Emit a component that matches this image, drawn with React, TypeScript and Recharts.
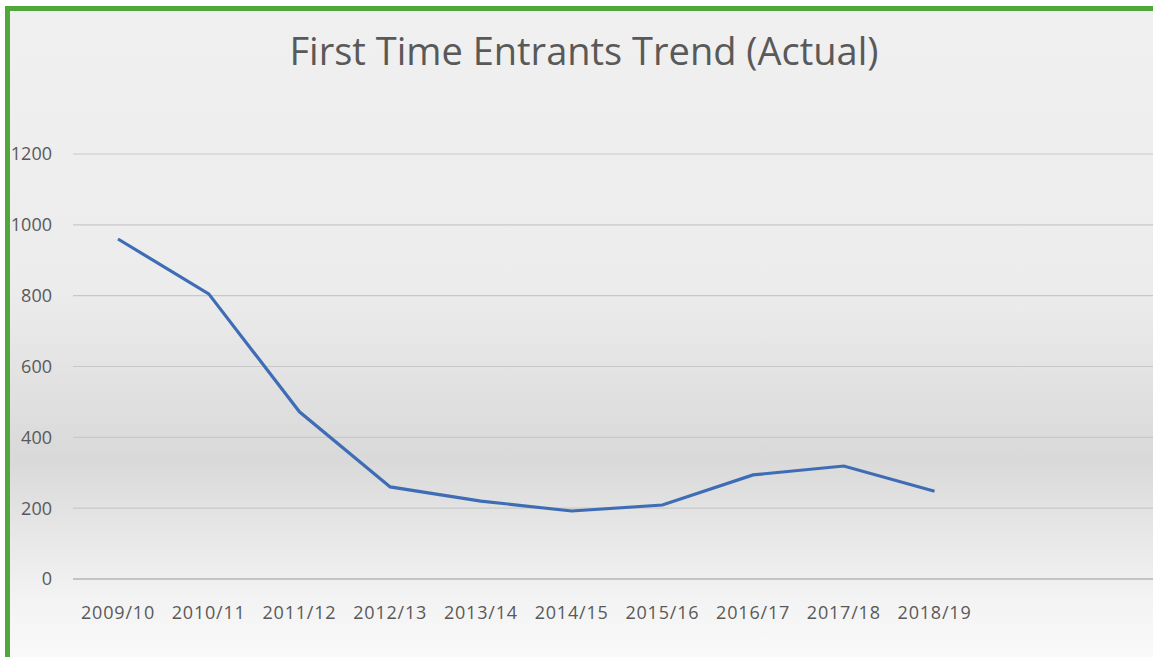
import React from "react";
import { LineChart, Line, XAxis, YAxis, CartesianGrid } from "recharts";

const categories = [
  "2009/10", "2010/11", "2011/12", "2012/13", "2013/14",
  "2014/15", "2015/16", "2016/17", "2017/18", "2018/19",
];
const entrants = [960, 805, 472, 260, 220, 192, 209, 294, 319, 248];
// two empty slots on the right of the category axis, as in the original
const emptySlots = [" ", "  "];
const yTicks = [0, 200, 400, 600, 800, 1000, 1200];

const data = [
  ...categories.map((c, i) => ({ name: c, value: entrants[i] })),
  ...emptySlots.map((c) => ({ name: c, value: null })),
];

const FONT = "'Open Sans', 'Noto Sans', sans-serif";

export default function App() {
  return (
    <div
      style={{
        position: "absolute",
        left: 0,
        top: 0,
        width: 1153,
        height: 657,
        overflow: "hidden",
        background: "#ffffff",
      }}
    >
      <div
        style={{
          position: "absolute",
          left: 5,
          top: 6,
          width: 1200,
          height: 700,
          borderTop: "5px solid #52a73a",
          borderLeft: "5px solid #52a73a",
          background:
            "linear-gradient(to bottom, #f0f0f0 0%, #ececec 40%, #d9d9d9 64%, #f3f3f3 84%, #ffffff 100%)",
        }}
      />
      <div
        style={{
          position: "absolute",
          left: 0,
          width: 1168,
          top: 27,
          textAlign: "center",
          fontFamily: FONT,
          fontSize: 38,
          lineHeight: "46px",
          color: "#595959",
        }}
      >
        First Time Entrants Trend (Actual)
      </div>
      <div style={{ position: "absolute", left: 0, top: 0 }}>
        <LineChart
          width={1161}
          height={657}
          data={data}
          margin={{ top: 154, right: 0, left: 8, bottom: 0 }}
        >
          <CartesianGrid horizontal vertical={false} stroke="#c8c8c8" strokeWidth={1.2} />
          <XAxis
            dataKey="name"
            height={78}
            padding={{ left: 45, right: 45 }}
            axisLine={{ stroke: "#bdbdbd", strokeWidth: 1.5 }}
            tickLine={false}
            tickSize={0}
            tickMargin={27}
            interval={0}
            tick={{ fill: "#595959", fontSize: 18, fontFamily: FONT, letterSpacing: 0.8 }}
          />
          <YAxis
            width={65}
            domain={[0, 1200]}
            ticks={yTicks}
            axisLine={false}
            tickLine={false}
            tickSize={0}
            tickMargin={21}
            tick={{ fill: "#595959", fontSize: 18, fontFamily: FONT }}
          />
          <Line
            type="linear"
            dataKey="value"
            stroke="#3f6db5"
            strokeWidth={3.2}
            dot={false}
            activeDot={false}
            isAnimationActive={false}
          />
        </LineChart>
      </div>
    </div>
  );
}
